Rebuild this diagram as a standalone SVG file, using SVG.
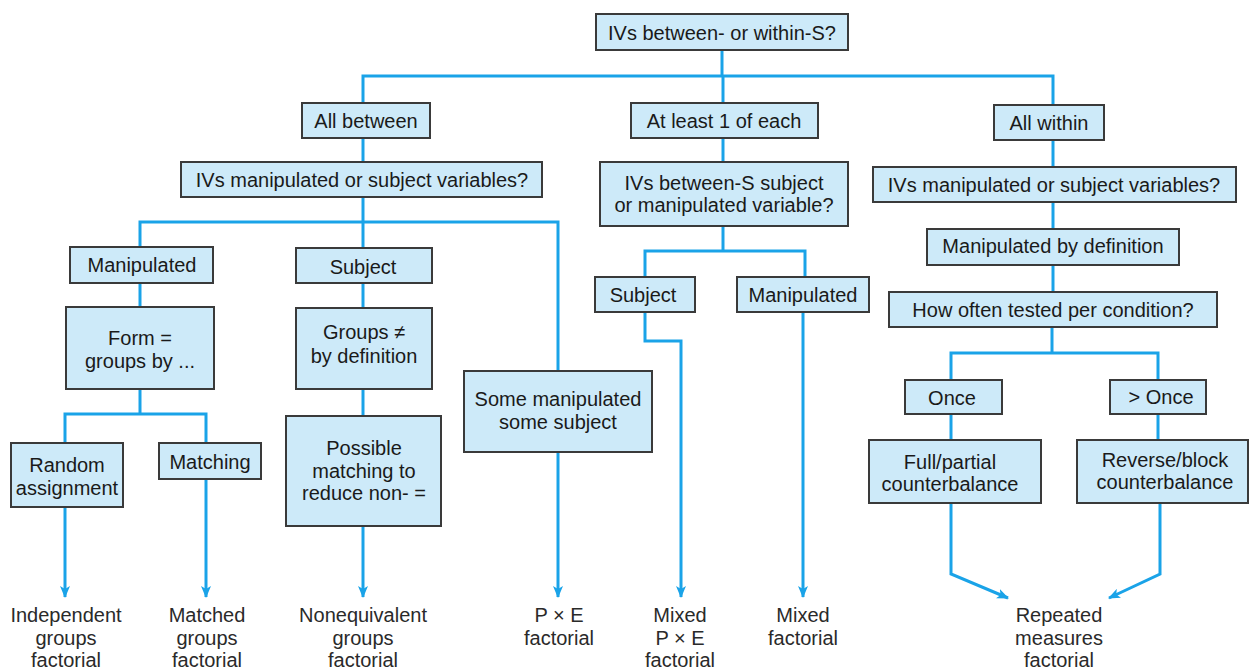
<svg xmlns="http://www.w3.org/2000/svg" width="1250" height="669" viewBox="0 0 1250 669">
<defs>
<style>
.box{fill:#cdeaf9;stroke:#3a3a3a;stroke-width:2}
.t{font-family:"Liberation Sans",Arial,sans-serif;font-size:20px;fill:#1a1a1a;text-anchor:middle;dominant-baseline:central}
.o{font-family:"Liberation Sans",Arial,sans-serif;font-size:20px;fill:#2a2a2a;text-anchor:middle;dominant-baseline:central}
.c{fill:none;stroke:#1aa3e8;stroke-width:3;stroke-linejoin:miter}
</style>
<marker id="ah" viewBox="0 0 12 10" refX="11" refY="5" markerWidth="12" markerHeight="10" markerUnits="userSpaceOnUse" orient="auto">
<path d="M0,0 L12,5 L0,10 L3,5 z" fill="#1aa3e8"/>
</marker>
</defs>
<rect width="1250" height="669" fill="#ffffff"/>
<g id="connectors">
<path class="c" d="M722,50 V76"/>
<path class="c" d="M363,103 V76 H1053 V105"/>
<path class="c" d="M723,76 V103"/>
<path class="c" d="M363,138 V162"/>
<path class="c" d="M363,197 V248"/>
<path class="c" d="M140,247 V222 H558 V371"/>
<path class="c" d="M140,283 V307"/>
<path class="c" d="M363,283 V308"/>
<path class="c" d="M140,389 V414"/>
<path class="c" d="M65,443 V414 H206 V443"/>
<path class="c" d="M65,507 V597" marker-end="url(#ah)"/>
<path class="c" d="M206,479 V597" marker-end="url(#ah)"/>
<path class="c" d="M363,389 V416"/>
<path class="c" d="M363,526 V597" marker-end="url(#ah)"/>
<path class="c" d="M558,452 V597" marker-end="url(#ah)"/>
<path class="c" d="M723,138 V162"/>
<path class="c" d="M723,226 V251"/>
<path class="c" d="M645,277 V251 H805 V277"/>
<path class="c" d="M645,312 V341 H681 V597" marker-end="url(#ah)"/>
<path class="c" d="M803,312 V597" marker-end="url(#ah)"/>
<path class="c" d="M1053,140 V167"/>
<path class="c" d="M1053,202 V229"/>
<path class="c" d="M1053,265 V292"/>
<path class="c" d="M1052,327 V353"/>
<path class="c" d="M951,380 V353 H1158 V380"/>
<path class="c" d="M951,414 V440"/>
<path class="c" d="M1158,414 V440"/>
<path class="c" d="M951,503 V574 L1008,598" marker-end="url(#ah)"/>
<path class="c" d="M1160,503 V574 L1109,598" marker-end="url(#ah)"/>
</g>
<g id="n-top"><rect class="box" x="596" y="14" width="252" height="36"/><text class="t" x="722" y="33">IVs between- or within-S?</text></g>
<g id="n-allbetween"><rect class="box" x="302" y="103" width="128" height="35"/><text class="t" x="366" y="121">All between</text></g>
<g id="n-atleast"><rect class="box" x="631" y="103" width="187" height="35"/><text class="t" x="724" y="121">At least 1 of each</text></g>
<g id="n-allwithin"><rect class="box" x="994" y="105" width="110" height="35"/><text class="t" x="1049" y="123">All within</text></g>
<g id="n-ivsmanipL"><rect class="box" x="181" y="162" width="361" height="35"/><text class="t" x="362" y="180">IVs manipulated or subject variables?</text></g>
<g id="n-ivsbetweenS"><rect class="box" x="600" y="162" width="248" height="64"/><text class="t" x="724" y="183">IVs between-S subject</text><text class="t" x="724" y="205">or manipulated variable?</text></g>
<g id="n-ivsmanipR"><rect class="box" x="873" y="167" width="363" height="35"/><text class="t" x="1054" y="185">IVs manipulated or subject variables?</text></g>
<g id="n-manipL"><rect class="box" x="70" y="247" width="143" height="36"/><text class="t" x="142" y="265">Manipulated</text></g>
<g id="n-subjectL"><rect class="box" x="296" y="248" width="136" height="35"/><text class="t" x="363" y="267">Subject</text></g>
<g id="n-subjectM"><rect class="box" x="595" y="277" width="100" height="35"/><text class="t" x="643" y="295">Subject</text></g>
<g id="n-manipM"><rect class="box" x="737" y="277" width="132" height="35"/><text class="t" x="803" y="295">Manipulated</text></g>
<g id="n-manipdef"><rect class="box" x="927" y="229" width="252" height="36"/><text class="t" x="1053" y="246">Manipulated by definition</text></g>
<g id="n-howoften"><rect class="box" x="889" y="292" width="328" height="35"/><text class="t" x="1053" y="310">How often tested per condition?</text></g>
<g id="n-form"><rect class="box" x="66" y="307" width="148" height="82"/><text class="t" x="140" y="338">Form =</text><text class="t" x="140" y="361">groups by ...</text></g>
<g id="n-groupsne"><rect class="box" x="296" y="308" width="136" height="81"/><text class="t" x="364" y="332">Groups ≠</text><text class="t" x="364" y="356">by definition</text></g>
<g id="n-somemanip"><rect class="box" x="464" y="371" width="188" height="81"/><text class="t" x="558" y="399">Some manipulated</text><text class="t" x="558" y="422">some subject</text></g>
<g id="n-random"><rect class="box" x="11" y="443" width="112" height="64"/><text class="t" x="67" y="465">Random</text><text class="t" x="67" y="488">assignment</text></g>
<g id="n-matching"><rect class="box" x="159" y="443" width="102" height="36"/><text class="t" x="210" y="462">Matching</text></g>
<g id="n-possible"><rect class="box" x="286" y="416" width="155" height="110"/><text class="t" x="364" y="448">Possible</text><text class="t" x="364" y="471">matching to</text><text class="t" x="364" y="493">reduce non- =</text></g>
<g id="n-once"><rect class="box" x="905" y="380" width="97" height="34"/><text class="t" x="952" y="398">Once</text></g>
<g id="n-gtonce"><rect class="box" x="1110" y="380" width="96" height="34"/><text class="t" x="1161" y="397">&gt; Once</text></g>
<g id="n-fullpartial"><rect class="box" x="869" y="440" width="172" height="63"/><text class="t" x="950" y="462">Full/partial</text><text class="t" x="950" y="484">counterbalance</text></g>
<g id="n-reverse"><rect class="box" x="1077" y="440" width="171" height="63"/><text class="t" x="1165" y="460">Reverse/block</text><text class="t" x="1165" y="482">counterbalance</text></g>
<g id="o-independent"><text class="o" x="66" y="615">Independent</text><text class="o" x="66" y="638">groups</text><text class="o" x="66" y="660">factorial</text></g>
<g id="o-matched"><text class="o" x="207" y="615">Matched</text><text class="o" x="207" y="638">groups</text><text class="o" x="207" y="660">factorial</text></g>
<g id="o-noneq"><text class="o" x="363" y="615">Nonequivalent</text><text class="o" x="363" y="638">groups</text><text class="o" x="363" y="660">factorial</text></g>
<g id="o-pxe"><text class="o" x="559" y="615">P × E</text><text class="o" x="559" y="638">factorial</text></g>
<g id="o-mixedpxe"><text class="o" x="680" y="615">Mixed</text><text class="o" x="680" y="638">P × E</text><text class="o" x="680" y="660">factorial</text></g>
<g id="o-mixed"><text class="o" x="803" y="615">Mixed</text><text class="o" x="803" y="638">factorial</text></g>
<g id="o-repeated"><text class="o" x="1059" y="615">Repeated</text><text class="o" x="1059" y="638">measures</text><text class="o" x="1059" y="660">factorial</text></g>
</svg>
